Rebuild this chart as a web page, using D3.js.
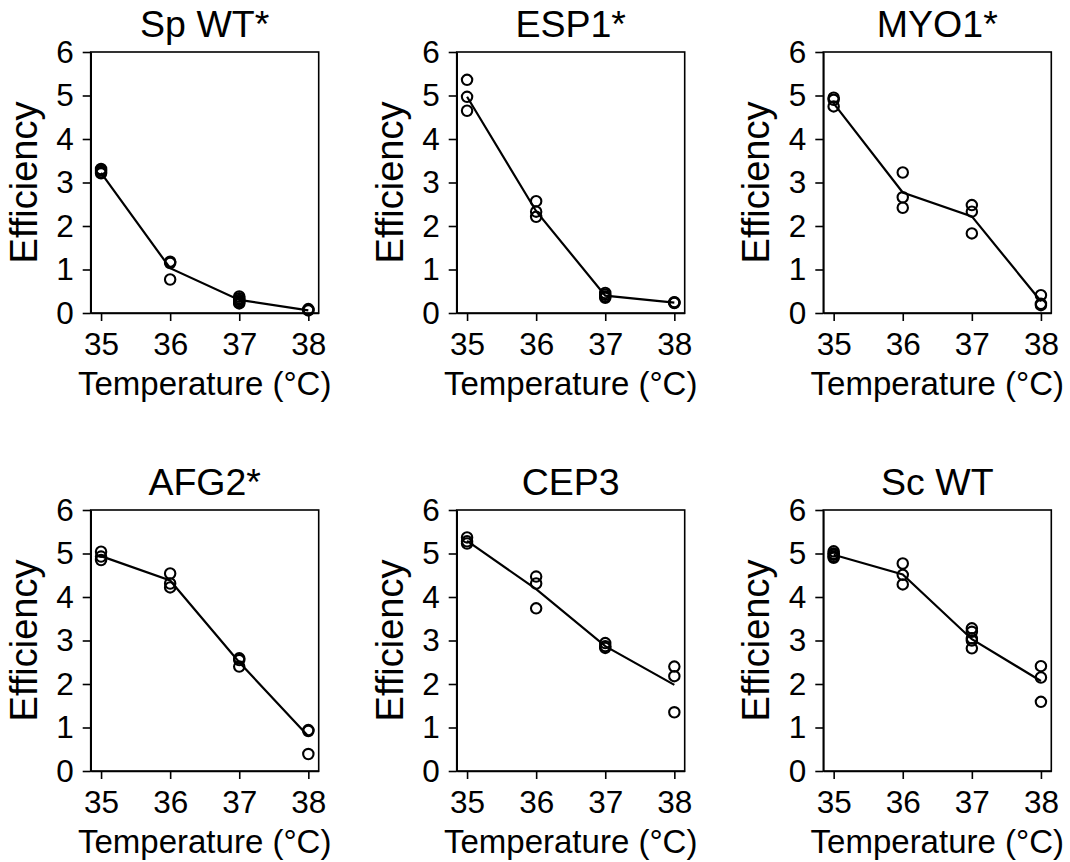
<!DOCTYPE html>
<html>
<head>
<meta charset="utf-8">
<script src="https://cdn.jsdelivr.net/npm/d3@7"></script>
<style>
  html, body { margin: 0; padding: 0; background: #fff; }
  svg { display: block; font-family: "Liberation Sans", Arial, sans-serif; }
</style>
</head>
<body>
<div id="chart"></div>
<script>
// temperatures shared by every panel
const temps = [35, 36, 37, 38];
const yTicks = [0, 1, 2, 3, 4, 5, 6];

const panelNames = ["Sp WT*", "ESP1*", "MYO1*", "AFG2*", "CEP3", "Sc WT"];

// replicate measurements per panel, one list per temperature (35,36,37,38)
const spWtPts   = [[3.31, 3.28, 3.24, 3.21], [1.18, 1.15, 0.77], [0.38, 0.34, 0.30, 0.27, 0.24, 0.22], [0.09, 0.07, 0.06]];
const esp1Pts   = [[5.36, 4.97, 4.65], [2.57, 2.33, 2.21], [0.46, 0.42, 0.38, 0.35], [0.25, 0.24, 0.23]];
const myo1Pts   = [[4.95, 4.90, 4.75], [3.23, 2.66, 2.42], [2.48, 2.33, 1.83], [0.41, 0.21, 0.18]];
const afg2Pts   = [[5.04, 4.93, 4.85], [4.54, 4.31, 4.22], [2.59, 2.55, 2.40], [0.94, 0.92, 0.39]];
const cep3Pts   = [[5.37, 5.28, 5.23], [4.47, 4.31, 3.74], [2.94, 2.87, 2.83], [2.40, 2.18, 1.35]];
const scWtPts   = [[5.05, 5.00, 4.97, 4.93, 4.90], [4.77, 4.51, 4.29], [3.28, 3.20, 3.05, 3.00, 2.82], [2.41, 2.15, 1.59]];

// the connecting line at each temperature
const spWtLine  = [3.22, 1.03, 0.30, 0.06];
const esp1Line  = [4.97, 2.34, 0.40, 0.24];
const myo1Line  = [4.82, 2.77, 2.22, 0.27];
const afg2Line  = [4.94, 4.38, 2.50, 0.80];
const cep3Line  = [5.29, 4.18, 2.87, 1.98];
const scWtLine  = [4.97, 4.52, 3.03, 2.07];

const panelPts  = [spWtPts, esp1Pts, myo1Pts, afg2Pts, cep3Pts, scWtPts];
const panelLine = [spWtLine, esp1Line, myo1Line, afg2Line, cep3Line, scWtLine];

const W = 1070, H = 862;
const pw = 228, ph = 261;
const lefts = [90.7, 456.7, 823.3];
const tops = [52, 510];
const FONT = '"Liberation Sans", Arial, sans-serif';

const svg = d3.select("#chart").append("svg").attr("width", W).attr("height", H);

const x = d3.scaleLinear().domain([34.85, 38.15]).range([0, pw]);
const y = d3.scaleLinear().domain([0, 6]).range([ph, 0]);

panelNames.forEach((name, i) => {
  const g = svg.append("g")
    .attr("transform", `translate(${lefts[i % 3]},${tops[Math.floor(i / 3)]})`);

  // axes
  const ya = g.append("g").call(d3.axisLeft(y).tickValues(yTicks).tickFormat(d3.format("d"))
    .tickSize(8).tickSizeOuter(0).tickPadding(9));
  const xa = g.append("g").attr("transform", `translate(0,${ph})`)
    .call(d3.axisBottom(x).tickValues(temps).tickFormat(d3.format("d"))
      .tickSize(8).tickSizeOuter(0).tickPadding(12));
  [ya, xa].forEach(a => {
    a.attr("font-family", FONT).attr("font-size", 31.5);
    a.selectAll("path,line").attr("stroke", "#000").attr("stroke-width", 1.6);
    a.selectAll("text").attr("fill", "#000");
  });

  // top & right spines
  g.append("rect").attr("width", pw).attr("height", ph)
    .attr("fill", "none").attr("stroke", "#000").attr("stroke-width", 1.6);

  // connecting line
  const line = d3.line().x((d, k) => x(temps[k])).y(d => y(d));
  g.append("path").datum(panelLine[i]).attr("d", line)
    .attr("fill", "none").attr("stroke", "#000").attr("stroke-width", 2.2);

  // replicate points
  const pts = panelPts[i].flatMap((vals, k) => vals.map(v => ({ t: temps[k], v })));
  g.selectAll("circle").data(pts).join("circle")
    .attr("cx", d => x(d.t)).attr("cy", d => y(d.v)).attr("r", 5.2)
    .attr("fill", "none").attr("stroke", "#000").attr("stroke-width", 2.1);

  // labels
  g.append("text").attr("x", pw / 2).attr("y", -15).attr("text-anchor", "middle")
    .style("font-size", "37.5px").text(name);
  g.append("text").attr("transform", `translate(-54,${ph / 2}) rotate(-90)`)
    .attr("text-anchor", "middle").style("font-size", "38px").text("Efficiency");
  g.append("text").attr("x", pw / 2).attr("y", ph + 82).attr("text-anchor", "middle")
    .style("font-size", "33px").text("Temperature (°C)");
});
</script>
</body>
</html>
